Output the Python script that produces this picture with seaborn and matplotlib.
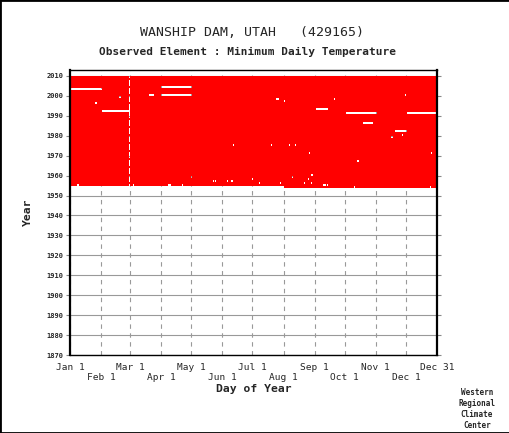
import numpy as np
import pandas as pd
import matplotlib
matplotlib.use('Agg')
import matplotlib.pyplot as plt
from matplotlib.colors import ListedColormap
from matplotlib.patches import Rectangle
import seaborn as sns

# 제목 텍스트
station = 'WANSHIP DAM, UTAH   (429165)'
element = 'Observed Element : Minimum Daily Temperature'

# 축 범위 (연도 / 일)
year_min, year_max = 1870, 2013
n_days = 366
year_ticks = list(range(1870, 2011, 10))
tick_days = [1, 32, 61, 92, 122, 153, 183, 214, 245, 275, 306, 336, 367]
tick_labels = ['Jan 1', 'Feb 1', 'Mar 1', 'Apr 1', 'May 1', 'Jun 1', 'Jul 1',
               'Aug 1', 'Sep 1', 'Oct 1', 'Nov 1', 'Dec 1', 'Dec 31']

# 관측 기간
record_start_year = 1954
record_start_day = 214   # Aug 1
record_end_year = 2009
feb29 = 60

# 결측 구간 (연도, 시작일, 끝일)
gap_year = [2003, 2004, 2000, 2000, 2000, 1999, 1998, 1998, 1997, 1996,
            1993, 1992, 1991, 1991, 1986, 1982, 1980, 1979, 1975, 1975,
            1975, 1975, 1971, 1971, 1971, 1967, 1960, 1959, 1959, 1958,
            1958, 1957, 1957, 1957, 1957, 1956, 1956, 1956, 1956, 1955,
            1955, 1955, 1955, 1955, 1955, 1954, 1954]
gap_first = [1, 92, 80, 92, 335, 50, 206, 264, 214, 26,
             246, 33, 276, 337, 293, 325, 332, 321, 164, 201,
             219, 225, 239, 361, 366, 287, 241, 122, 222, 183,
             238, 144, 146, 158, 162, 189, 210, 234, 241, 8,
             64, 99, 113, 253, 257, 284, 360]
gap_last = [32, 122, 84, 122, 335, 51, 208, 264, 214, 27,
            257, 60, 306, 366, 302, 336, 332, 322, 164, 201,
            219, 225, 239, 361, 366, 288, 242, 122, 222, 183,
            238, 144, 146, 158, 163, 189, 210, 234, 241, 9,
            64, 101, 113, 255, 257, 284, 360]

# 관측 여부 행렬 (1 = 관측, NaN = 결측)
years = np.arange(year_max - 1, year_min - 1, -1)
days = np.arange(1, n_days + 1)
obs = pd.DataFrame(np.nan, index=years, columns=days)
for y in range(record_start_year, record_end_year + 1):
    first = record_start_day if y == record_start_year else 1
    obs.loc[y, first:] = 1
    leap = (y % 4 == 0 and y % 100 != 0) or y % 400 == 0
    if not leap:
        obs.loc[y, feb29] = np.nan
for y, a, b in zip(gap_year, gap_first, gap_last):
    obs.loc[y, a:b] = np.nan

sns.set_style('white')
plt.rcParams['font.family'] = 'DejaVu Sans Mono'

fig = plt.figure(figsize=(5.1, 4.33), dpi=100)
ax = fig.add_axes([70 / 510, 1 - 355 / 433, 367 / 510, 285 / 433])

sns.heatmap(obs, cmap=ListedColormap(['#ff0000']), cbar=False, ax=ax,
            xticklabels=False, yticklabels=False)

# 눈금
ax.set_xticks([d - 1 for d in tick_days])
ax.set_xticklabels([lab if i % 2 == 0 else '\n' + lab for i, lab in enumerate(tick_labels)],
                   rotation=0, fontsize=6.8)
for t in ax.get_xticklabels():
    t.set_linespacing(1.05)
ax.set_yticks([year_max - y for y in year_ticks])
ax.set_yticklabels([str(y) for y in year_ticks], rotation=0, fontsize=5, fontweight='bold')
ax.tick_params(axis='x', length=0, pad=6)
ax.tick_params(axis='y', left=True, right=True, length=3, width=0.8,
               direction='out', color='#888888', pad=1.5)

# 격자
ax.set_axisbelow(True)
ax.xaxis.grid(True, linestyle=(0, (4, 4)), color='#999999', linewidth=0.8)
ax.yaxis.grid(True, linestyle='-', color='#999999', linewidth=0.8)

for s in ax.spines.values():
    s.set_visible(True)
    s.set_color('black')
    s.set_linewidth(1.0)
ax.spines['left'].set_linewidth(1.6)
ax.spines['right'].set_linewidth(1.6)

ax.set_xlabel('Day of Year', fontsize=8.2, fontweight='bold', labelpad=2)
ax.set_ylabel('Year', fontsize=8.2, fontweight='bold', labelpad=10)

fig.text(252 / 510, 1 - 33 / 433, station, ha='center', va='center', fontsize=9.5)
fig.text(248 / 510, 1 - 52 / 433, element, ha='center', va='center',
         fontsize=8, fontweight='bold')
fig.text(477 / 510, 1 - 409 / 433, 'Western\nRegional\nClimate\nCenter',
         ha='center', va='center', fontsize=5.5, fontweight='bold', linespacing=1.25)

fig.patches.append(Rectangle((0, 0), 1, 1, transform=fig.transFigure,
                             fill=False, edgecolor='black', linewidth=2))

fig.savefig('out.png', dpi=100)
